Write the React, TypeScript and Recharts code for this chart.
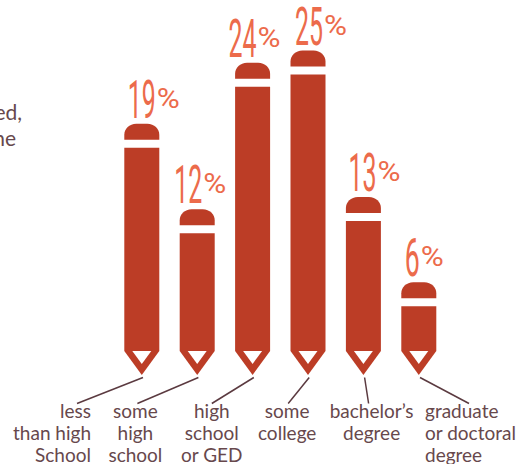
import { BarChart, Bar, XAxis, YAxis, LabelList } from 'recharts';

const categories = ['less than high School', 'some high school', 'high school or GED', 'some college', "bachelor's degree", 'graduate or doctoral degree'];
const shares = [19, 12, 24, 25, 13, 6];

const tickLines = [
  ['less', 'than high', 'School'],
  ['some', 'high', 'school'],
  ['high', 'school', 'or GED'],
  ['some', 'college'],
  ['bachelor’s', 'degree'],
  ['graduate', 'or doctoral', 'degree'],
];

// text anchor, text x and the end of the leader line, relative to each pencil's centre
const tickAnchors = ['end', 'middle', 'middle', 'middle', 'middle', 'start'];
const tickTextX = [-51, -62, -41, -21, 8, 6];
const leaderEndX = [-65, -60, -41, -20, 5, 50];

// number offsets from the pencil's centre, the taller pairs lean further left
const numberX = [-14, -23, -24, -13, -15, -14];

const data = categories.map((name, i) => ({ name, share: shares[i] }));

const BODY = '#bc3d26';
const ACCENT = '#ec6b4b';
const INK = '#67484c';
const SANS = 'Lato, "Open Sans", sans-serif';

function Pencil({ x, y, width, height }: any) {
  const cx = x + width / 2;
  const shoulder = y + height - 4.5;
  const tip = shoulder + 24;
  const eraser = `M${x},${y + 16} L${x},${y + 11} C${x},${y + 5} ${x + 5},${y} ${x + 12},${y} L${x + width - 12},${y} C${x + width - 5},${y} ${x + width},${y + 5} ${x + width},${y + 11} L${x + width},${y + 16} Z`;
  const barrel = `M${x},${y + 24} L${x + width},${y + 24} L${x + width},${shoulder} L${cx},${tip} L${x},${shoulder} Z`;
  const nib = `M${cx - 9.5},${shoulder} L${cx + 9.5},${shoulder} L${cx},${shoulder + 13} Z`;
  return (
    <g>
      <path d={eraser} fill={BODY} />
      <path d={barrel} fill={BODY} />
      <path d={nib} fill="#fff" />
    </g>
  );
}

function ShareLabel({ x, y, width, value, index }: any) {
  const cx = x + width / 2;
  const digits = String(value);
  const numberWidth = digits.length > 1 ? 28 : 15;
  const left = cx + numberX[index];
  const base = y - 6;
  return (
    <g fill={ACCENT} fontFamily="Roboto, sans-serif" fontWeight={400}>
      <text x={left} y={base} fontSize={54} textLength={numberWidth} lengthAdjust="spacingAndGlyphs">
        {digits}
      </text>
      <text x={left + numberWidth + 1} y={base - 10} fontSize={27} textLength={23} lengthAdjust="spacingAndGlyphs">
        %
      </text>
    </g>
  );
}

function LevelTick({ x, y, index }: any) {
  const lines = tickLines[index];
  return (
    <g>
      <line x1={x + 1} y1={y + 22} x2={x + leaderEndX[index]} y2={y + 48} stroke="#5b3a40" strokeWidth={1.5} />
      <text x={x + tickTextX[index]} textAnchor={tickAnchors[index]} fill={INK} fontFamily={SANS} fontSize={19}>
        {lines.map((line, i) => (
          <tspan key={line} x={x + tickTextX[index]} y={y + 62 + i * 22}>
            {line}
          </tspan>
        ))}
      </text>
    </g>
  );
}

export default function App() {
  return (
    <div style={{ position: 'absolute', left: 0, top: 0, width: 516, height: 464, overflow: 'hidden', background: '#fff' }}>
      <BarChart width={516} height={464} data={data} margin={{ top: 14, right: 69.3, bottom: 0, left: 114.3 }}>
        <XAxis dataKey="name" axisLine={false} tickLine={false} tickSize={0} tickMargin={0} height={108.5} interval={0} tick={<LevelTick />} />
        <YAxis hide domain={[0, 28]} />
        <Bar dataKey="share" barSize={35} isAnimationActive={false} shape={<Pencil />}>
          <LabelList dataKey="share" content={<ShareLabel />} />
        </Bar>
        {/* tail of the paragraph that runs off the left edge */}
        <text fill={INK} fontFamily={SANS} fontSize={21} textAnchor="end">
          <tspan x={22} y={120}>ed,</tspan>
          <tspan x={16} y={146}>he</tspan>
        </text>
      </BarChart>
    </div>
  );
}
